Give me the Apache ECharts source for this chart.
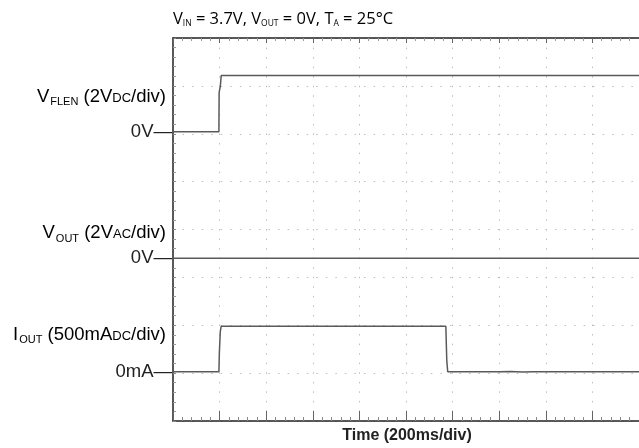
<!DOCTYPE html>
<html>
<head>
<meta charset="utf-8">
<script src="https://cdn.jsdelivr.net/npm/echarts@6/dist/echarts.min.js"></script>
<style type="text/css">
    html, body { margin: 0; padding: 0; background: #fff; }
    #scope_div { width: 639px; height: 448px; }
</style>
</head>
<body>
<div id="scope_div"></div>
<script>
    // time axis (ms), 200ms/div
    var timeTicks = [0, 200, 400, 600, 800, 1000, 1200, 1400, 1600, 1800, 2000];

    // V_FLEN trace, volts (2V/div)
    var flenTime = [0, 197, 198, 203, 207, 2000];
    var flenVolts = [0, 0, 1.65, 1.9, 2.35, 2.35];

    // V_OUT trace, volts (2V/div)
    var voutTime = [0, 2000];
    var voutVolts = [0, 0];

    // I_OUT trace, mA (500mA/div)
    var ioutTime = [0, 197, 199, 203, 207, 1171, 1175, 1179, 1400, 1450, 1500, 1550, 2000];
    var ioutMilliAmps = [0, 0, 200, 420, 475, 475, 120, 0, 0, 3, -3, 0, 0];

    // where each trace's zero sits on the 8-division screen, and its scale
    var flenZero = 6.04, flenPerDiv = 2;
    var voutZero = 3.40, voutPerDiv = 2;
    var ioutZero = 1.03, ioutPerDiv = 500;

    var traceColor = '#5a5a5a';
    var gridDots = { color: '#bdbdbd', width: 1, type: [1.5, 8.05] };

    function toDiv(times, values, zero, perDiv) {
        var out = [];
        for (var i = 0; i < times.length; i++) {
            out.push([times[i], zero + values[i] / perDiv]);
        }
        return out;
    }

    var chart = echarts.init(document.getElementById('scope_div'));

    var option = {
        animation: false,
        grid: { left: 173, right: -11, top: 38, bottom: 27 },
        xAxis: [
            {
                type: 'value', min: timeTicks[0], max: timeTicks[timeTicks.length - 1], interval: 200,
                position: 'bottom',
                axisLine: { show: true, lineStyle: { color: '#222', width: 1.5 } },
                axisTick: { show: true, inside: true, length: 10, lineStyle: { color: '#666' } },
                minorTick: { show: true, splitNumber: 5, length: 4, lineStyle: { color: '#888' } },
                axisLabel: { show: false },
                splitLine: { show: true, lineStyle: gridDots }
            },
            {
                type: 'value', min: timeTicks[0], max: timeTicks[timeTicks.length - 1], interval: 200,
                position: 'top',
                axisLine: { show: true, lineStyle: { color: '#222', width: 1.5 } },
                axisTick: { show: true, inside: true, length: 5, lineStyle: { color: '#666' } },
                minorTick: { show: true, splitNumber: 5, length: 3, lineStyle: { color: '#999' } },
                axisLabel: { show: false },
                splitLine: { show: false }
            }
        ],
        yAxis: {
            type: 'value', min: 0, max: 8, interval: 1,
            axisLine: { show: true, lineStyle: { color: '#222', width: 1.5 } },
            axisTick: { show: true, inside: true, length: 3, lineStyle: { color: '#888' } },
            minorTick: { show: true, splitNumber: 5, length: 3, lineStyle: { color: '#999' } },
            axisLabel: { show: false },
            splitLine: { show: true, lineStyle: gridDots }
        },
        series: [
            {
                name: 'VFLEN', type: 'line', showSymbol: false,
                lineStyle: { color: traceColor, width: 1.5 },
                data: toDiv(flenTime, flenVolts, flenZero, flenPerDiv)
            },
            {
                name: 'VOUT', type: 'line', showSymbol: false,
                lineStyle: { color: traceColor, width: 1.5 },
                data: toDiv(voutTime, voutVolts, voutZero, voutPerDiv)
            },
            {
                name: 'IOUT', type: 'line', showSymbol: false,
                lineStyle: { color: traceColor, width: 1.5 },
                data: toDiv(ioutTime, ioutMilliAmps, ioutZero, ioutPerDiv)
            }
        ]
    };
    chart.setOption(option);

    // labels on the left, placed at each trace's zero level
    var labFont = '"Liberation Sans", Arial, sans-serif';
    var rich = {
        a: { fontSize: 18.5, fontFamily: labFont, color: '#222', lineHeight: 22 },
        s: { fontSize: 11, fontFamily: labFont, color: '#222', padding: [11, 0, 0, 1] },
        c: { fontSize: 13, fontFamily: labFont, color: '#222', padding: [3, 0, 0, 0] }
    };
    function yPix(v) { return chart.convertToPixel({ yAxisIndex: 0 }, v); }

    function zeroLabel(str, y) {
        return { type: 'text', x: 172, y: y, style: { text: str, font: '18.5px ' + labFont, fill: '#222', align: 'right', verticalAlign: 'middle' } };
    }

    var titleFont = '"Open Sans", sans-serif';
    var trich = {
        a: { fontSize: 16.5, fontFamily: titleFont, color: '#222', lineHeight: 20 },
        s: { fontSize: 8.5, fontFamily: titleFont, color: '#222', padding: [10, 0, 0, 0] }
    };

    chart.setOption({
        graphic: [
            { type: 'text', x: 173, y: 9,
              style: { text: '{a|V}{s|IN}{a| = 3.7V, V}{s|OUT}{a| = 0V, T}{s|A}{a| = 25°C}', rich: trich } },
            { type: 'text', x: 166, y: yPix(flenZero + 0.73), style: { text: '{a|V}{s|FLEN}{a| (2V}{c|DC}{a|/div)}', rich: rich, align: 'right', verticalAlign: 'middle' } },
            zeroLabel('0V—', yPix(flenZero)),
            { type: 'text', x: 166, y: yPix(voutZero + 0.52), style: { text: '{a|V}{s|OUT}{a| (2V}{c|AC}{a|/div)}', rich: rich, align: 'right', verticalAlign: 'middle' } },
            zeroLabel('0V—', yPix(voutZero)),
            { type: 'text', x: 166, y: yPix(ioutZero + 0.77), style: { text: '{a|I}{s|OUT}{a| (500mA}{c|DC}{a|/div)}', rich: rich, align: 'right', verticalAlign: 'middle' } },
            zeroLabel('0mA—', yPix(ioutZero)),
            { type: 'text', x: 407, y: 436,
              style: { text: 'Time (200ms/div)', font: 'bold 16px ' + labFont, fill: '#222', align: 'center', verticalAlign: 'middle' } }
        ]
    });
</script>
</body>
</html>
